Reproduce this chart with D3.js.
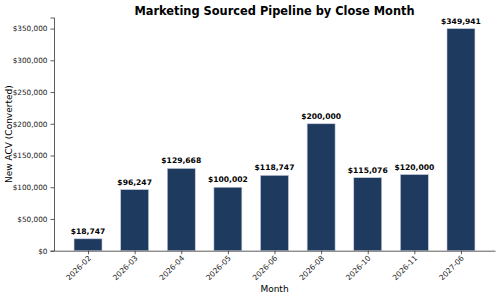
<!DOCTYPE html>
<html><head><meta charset="utf-8">
<script src="https://cdn.jsdelivr.net/npm/d3@7"></script>
<style>body{margin:0;background:#fff}svg{display:block;font-family:"DejaVu Sans",sans-serif}</style>
</head><body><div id="chart"></div>
<script>
const months = ["2026-02","2026-03","2026-04","2026-05","2026-06","2026-08","2026-10","2026-11","2027-06"];
const values = [18747,96247,129668,100002,118747,200000,115076,120000,349941];
const yTicks = [0,50000,100000,150000,200000,250000,300000,350000];

(function(){
const W=500,H=298;
const svg=d3.select("#chart").append("svg").attr("width",W).attr("height",H);
const mL=54,mR=495,mT=17.5,mB=250.7;
const x=d3.scaleLinear().domain([-0.73,months.length-1+0.73]).range([mL,mR]);
const y=d3.scaleLinear().domain([0,d3.max(values)*1.05]).range([mB,mT]);
const bw=0.6;
const fmt=d3.format("$,.0f");
const color="#1f3a5f";

svg.selectAll("rect.bar").data(values).join("rect").attr("class","bar")
  .attr("x",(d,i)=>x(i-bw/2)).attr("width",x(bw)-x(0))
  .attr("y",d=>y(d)).attr("height",d=>y(0)-y(d))
  .attr("fill",color).attr("stroke","#c8d0dc").attr("stroke-width",0.6);

svg.selectAll("text.val").data(values).join("text").attr("class","val")
  .attr("x",(d,i)=>x(i)).attr("y",d=>y(d)-5)
  .attr("text-anchor","middle").attr("font-size",7.6).attr("font-weight","bold").attr("fill","#000")
  .text(d=>fmt(d));

const ya=svg.append("g").attr("transform",`translate(${mL},0)`)
  .call(d3.axisLeft(y).tickValues(yTicks).tickFormat(fmt).tickSize(3.5).tickPadding(3));
ya.select(".domain").attr("stroke","#333").attr("stroke-width",0.8);
ya.selectAll(".tick line").attr("stroke","#333").attr("stroke-width",0.8);
ya.selectAll("text").attr("font-size",7.3).attr("fill","#222").attr("font-family","DejaVu Sans");

const xa=svg.append("g").attr("transform",`translate(0,${mB})`)
  .call(d3.axisBottom(x).tickValues(d3.range(months.length)).tickFormat(i=>months[i]).tickSize(3.5).tickSizeOuter(0));
xa.select(".domain").attr("stroke","#333").attr("stroke-width",0.8);
xa.selectAll(".tick line").attr("stroke","#333").attr("stroke-width",0.8);
xa.selectAll("text").attr("font-size",7.5).attr("fill","#222").attr("font-family","DejaVu Sans")
  .attr("text-anchor","end").attr("dy",null).attr("y",null)
  .attr("transform","translate(3,8) rotate(-45)");

svg.append("text").attr("x",(mL+mR)/2).attr("y",15).attr("text-anchor","middle")
  .attr("font-size",11.4).attr("font-weight","bold").text("Marketing Sourced Pipeline by Close Month");
svg.append("text").attr("x",(mL+mR)/2).attr("y",292).attr("text-anchor","middle")
  .attr("font-size",9).text("Month");
svg.append("text").attr("transform",`translate(12,${(mT+mB)/2}) rotate(-90)`).attr("text-anchor","middle")
  .attr("font-size",9).text("New ACV (Converted)");
})();
</script></body></html>
